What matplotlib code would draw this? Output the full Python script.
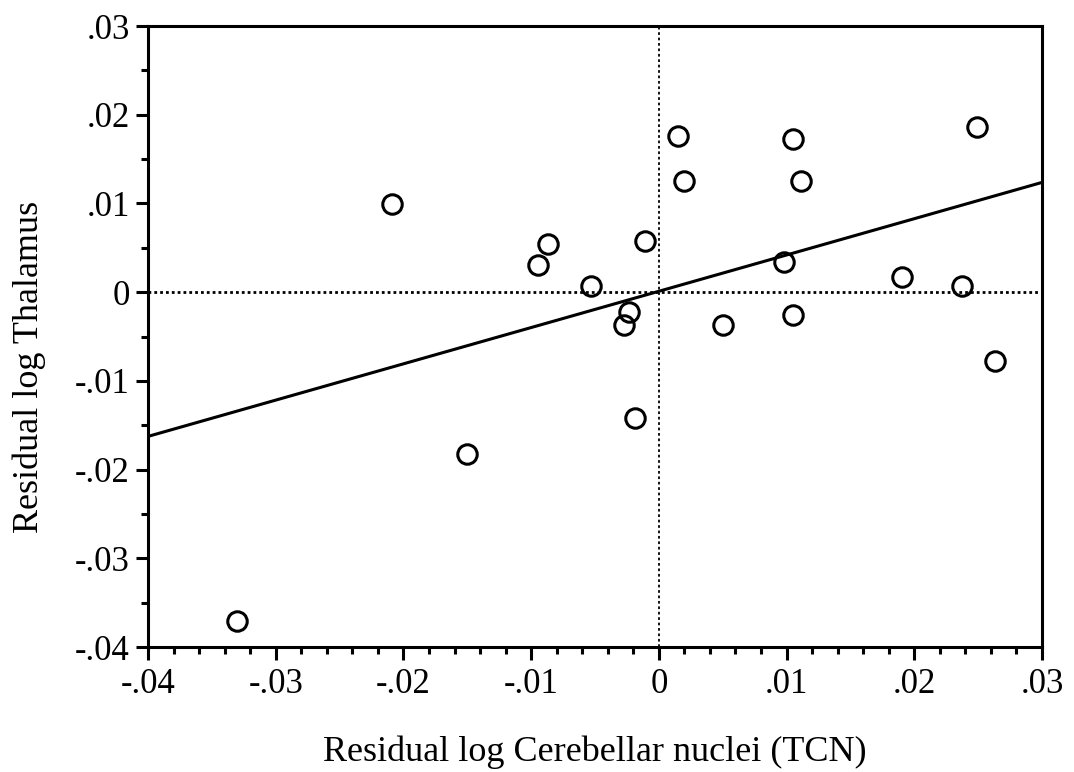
import matplotlib.pyplot as plt
import numpy as np
from matplotlib.ticker import MultipleLocator, FuncFormatter

plt.rcParams['font.family'] = ['Liberation Serif', 'DejaVu Serif']

# residuals
tcn = [-0.0330, -0.0209, -0.0150, -0.0095, -0.0087, -0.0053, -0.0011, -0.0027,
       -0.0023, -0.0019, 0.0015, 0.0020, 0.0050, 0.0098, 0.0105, 0.0105,
       0.0111, 0.0190, 0.0237, 0.0249, 0.0263]
thalamus = [-0.0371, 0.0099, -0.0182, 0.0031, 0.0054, 0.0007, 0.0058, -0.0037,
            -0.0022, -0.0142, 0.0176, 0.0125, -0.0037, 0.0034, 0.0173, -0.0026,
            0.0125, 0.0017, 0.0007, 0.0186, -0.0078]

fit_slope = 0.409
fit_intercept = 0.0001

x_ticks = [-0.04, -0.03, -0.02, -0.01, 0, 0.01, 0.02, 0.03]
y_ticks = [-0.04, -0.03, -0.02, -0.01, 0, 0.01, 0.02, 0.03]


def fmt(v, pos):
    if abs(v) < 1e-9:
        return "0"
    s = "%.2f" % v
    return s.replace("0.", ".")


fig = plt.figure(figsize=(10.74, 7.72), dpi=100)
ax = fig.add_axes([0.1378, 0.1619, 0.8324, 0.8044])

ax.axvline(0, color="black", linestyle=(0, (1.5, 1.5)), linewidth=1.3, zorder=1)
ax.axhline(0, color="black", linestyle=(0, (1, 1.1)), linewidth=2.0, zorder=1)

xl = np.array([-0.04, 0.03])
ax.plot(xl, fit_slope * xl + fit_intercept, color="black", linewidth=2.2, zorder=2)

ax.plot(tcn, thalamus, linestyle="none", marker="o", markersize=14,
        markerfacecolor="none", markeredgecolor="black", markeredgewidth=2.2, zorder=3)

ax.set_xlim(-0.04, 0.03)
ax.set_ylim(-0.04, 0.03)
ax.set_xticks(x_ticks)
ax.set_yticks(y_ticks)
ax.xaxis.set_minor_locator(MultipleLocator(0.002))
ax.yaxis.set_minor_locator(MultipleLocator(0.005))
ax.xaxis.set_major_formatter(FuncFormatter(fmt))
ax.yaxis.set_major_formatter(FuncFormatter(fmt))

ax.tick_params(which="major", direction="out", length=9, width=2.2, labelsize=25)
ax.tick_params(axis="y", which="major", pad=4)
ax.tick_params(axis="x", which="major", pad=6)
ax.tick_params(which="minor", direction="out", length=5, width=2.2)
for sp in ax.spines.values():
    sp.set_linewidth(2.2)

ax.set_xlabel("Residual log Cerebellar nuclei (TCN)", fontsize=26, labelpad=25)
ax.set_ylabel("Residual log Thalamus", fontsize=26)
ax.yaxis.set_label_coords(-0.114, 0.451)

plt.savefig("out.png", dpi=100)
plt.close()
